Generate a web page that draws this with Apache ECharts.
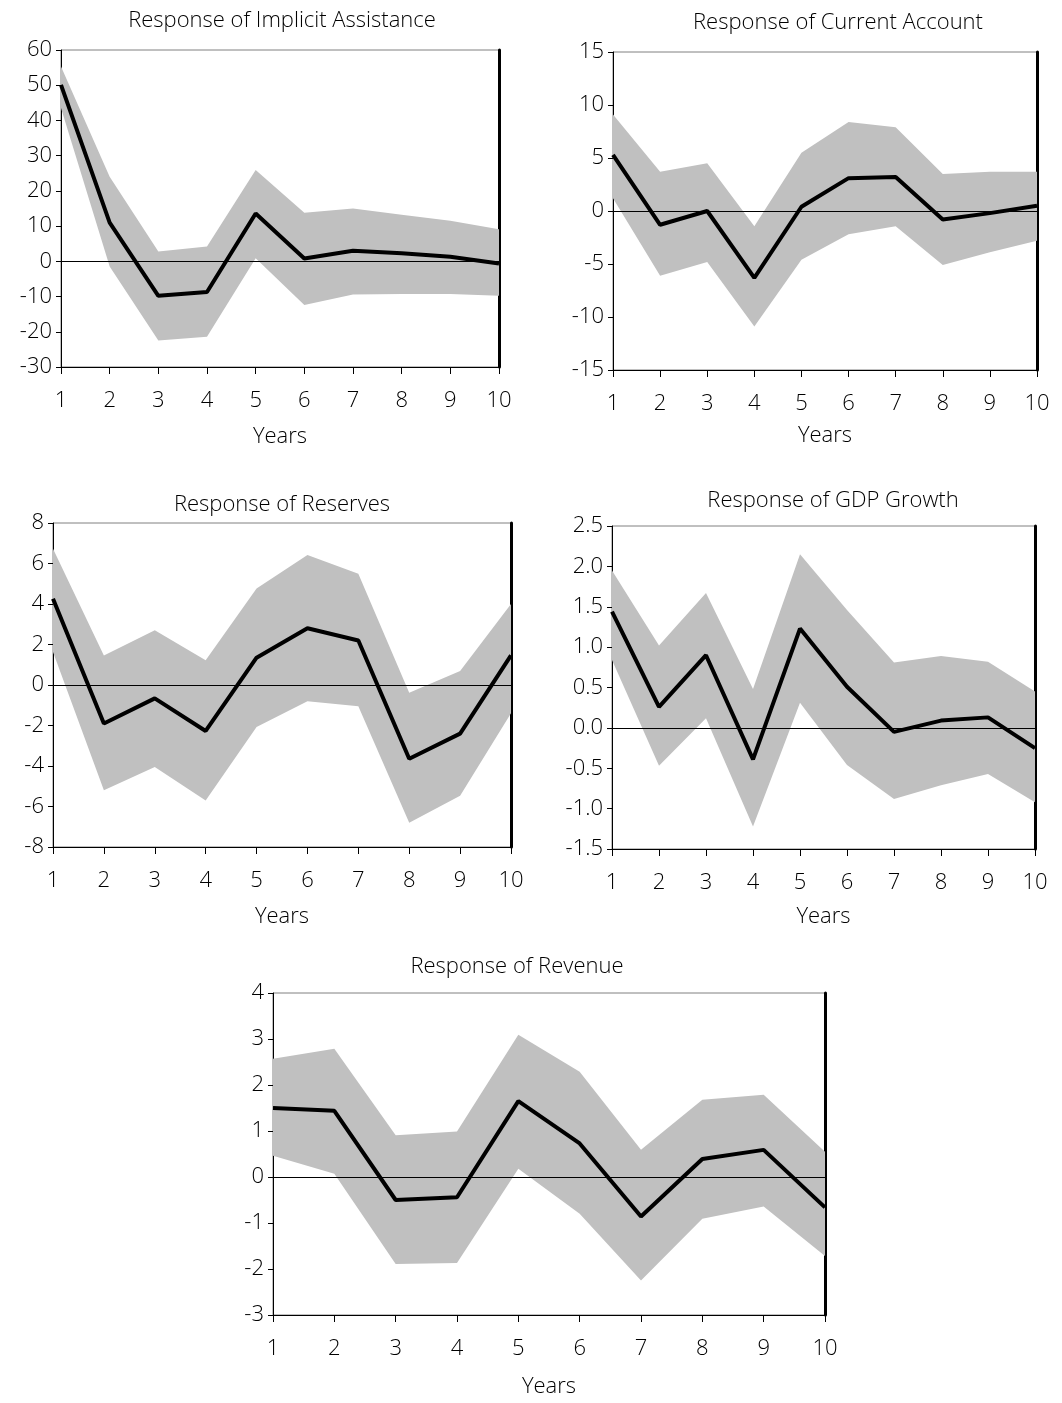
<!DOCTYPE html>
<html>
<head>
<meta charset="utf-8">
<script src="https://cdn.jsdelivr.net/npm/echarts@6/dist/echarts.min.js"></script>
<style>
html,body{margin:0;padding:0;background:#fff;}
#chart{width:1062px;height:1403px;}
</style>
</head>
<body>
<div id="chart"></div>
<script>
// ---- data ----
const years = ['1','2','3','4','5','6','7','8','9','10'];

const titles = [
  'Response of Implicit Assistance',
  'Response of Current Account',
  'Response of Reserves',
  'Response of GDP Growth',
  'Response of Revenue'
];

const implicitMean  = [50.1, 11.0, -9.8, -8.7, 13.6, 0.8, 3.0, 2.3, 1.3, -0.6];
const implicitUpper = [55.3, 24.0, 2.8, 4.2, 25.9, 13.8, 15.0, 13.2, 11.5, 9.1];
const implicitLower = [43.5, -1.5, -22.5, -21.4, 0.9, -12.4, -9.4, -9.3, -9.3, -9.8];

const currentMean  = [5.3, -1.3, 0.0, -6.3, 0.4, 3.1, 3.2, -0.8, -0.2, 0.5];
const currentUpper = [9.1, 3.7, 4.5, -1.45, 5.5, 8.4, 7.9, 3.5, 3.7, 3.7];
const currentLower = [1.2, -6.1, -4.8, -10.9, -4.6, -2.2, -1.45, -5.1, -3.9, -2.8];

const reservesMean  = [4.26, -1.9, -0.66, -2.27, 1.35, 2.8, 2.2, -3.64, -2.4, 1.46];
const reservesUpper = [6.73, 1.46, 2.7, 1.22, 4.76, 6.42, 5.5, -0.38, 0.69, 4.0];
const reservesLower = [1.63, -5.2, -4.05, -5.7, -2.07, -0.8, -1.05, -6.8, -5.47, -1.4];

const gdpMean  = [1.44, 0.26, 0.9, -0.39, 1.23, 0.51, -0.05, 0.09, 0.13, -0.25];
const gdpUpper = [1.95, 1.02, 1.67, 0.48, 2.15, 1.46, 0.81, 0.89, 0.82, 0.45];
const gdpLower = [0.84, -0.47, 0.12, -1.22, 0.31, -0.46, -0.88, -0.71, -0.57, -0.92];

const revenueMean  = [1.5, 1.44, -0.5, -0.44, 1.65, 0.73, -0.86, 0.39, 0.59, -0.66];
const revenueUpper = [2.57, 2.79, 0.91, 0.99, 3.09, 2.29, 0.59, 1.68, 1.79, 0.55];
const revenueLower = [0.46, 0.07, -1.89, -1.87, 0.18, -0.8, -2.25, -0.91, -0.64, -1.72];

// y-axis scales (min, max, interval, decimals)
const yScales = [
  [-30, 60, 10, 0],
  [-15, 15, 5, 0],
  [-8, 8, 2, 0],
  [-1.5, 2.5, 0.5, 1],
  [-3, 4, 1, 0]
];

const panels = [
  {mean: implicitMean, upper: implicitUpper, lower: implicitLower},
  {mean: currentMean, upper: currentUpper, lower: currentLower},
  {mean: reservesMean, upper: reservesUpper, lower: reservesLower},
  {mean: gdpMean, upper: gdpUpper, lower: gdpLower},
  {mean: revenueMean, upper: revenueUpper, lower: revenueLower}
];

// ---- layout ----
const gridBoxes = [
  {left: 61, top: 50, width: 438, height: 317},
  {left: 613, top: 52, width: 424, height: 318},
  {left: 53, top: 523, width: 458, height: 324},
  {left: 612, top: 526, width: 423, height: 323},
  {left: 273, top: 993, width: 552, height: 322}
];
const titlePos = [
  {x: 277, y: 5},
  {x: 833, y: 7},
  {x: 277, y: 489},
  {x: 828, y: 485},
  {x: 512, y: 951}
];
const nameGaps = [59, 55, 59, 57, 61];

const FONT = '"Open Sans", "Noto Sans", sans-serif';
const textBase = {color: '#000', fontFamily: FONT, fontSize: 22, fontWeight: 300};

const option = {
  backgroundColor: '#fff',
  animation: false,
  title: titles.map((t, i) => ({
    text: t,
    left: titlePos[i].x,
    top: titlePos[i].y,
    textAlign: 'center',
    textStyle: Object.assign({}, textBase, {fontSize: 22})
  })),
  grid: gridBoxes.map(g => Object.assign({
    show: true, borderColor: '#808080', borderWidth: 1, backgroundColor: '#fff',
    containLabel: false
  }, g)),
  xAxis: gridBoxes.map((g, i) => ({
    type: 'category',
    gridIndex: i,
    data: years,
    boundaryGap: false,
    name: 'Years',
    nameLocation: 'middle',
    nameGap: nameGaps[i],
    nameTextStyle: Object.assign({}, textBase),
    axisLine: {show: true, onZero: false, lineStyle: {color: '#000', width: 1}},
    axisTick: {show: true, alignWithLabel: true, length: 7, lineStyle: {color: '#000'}},
    axisLabel: Object.assign({margin: 23}, textBase),
    splitLine: {show: false}
  })),
  yAxis: [].concat(
    yScales.map((s, i) => ({
      type: 'value',
      gridIndex: i,
      min: s[0], max: s[1], interval: s[2],
      position: 'left',
      axisLine: {show: true, onZero: false, lineStyle: {color: '#000', width: 1}},
      axisTick: {show: true, length: 5, lineStyle: {color: '#000'}},
      axisLabel: Object.assign({margin: 9, formatter: v => v.toFixed(s[3])}, textBase),
      splitLine: {show: false}
    })),
    yScales.map((s, i) => ({
      type: 'value',
      gridIndex: i,
      min: s[0], max: s[1], interval: s[2],
      position: 'right',
      axisLine: {show: true, onZero: false, lineStyle: {color: '#000', width: 3}},
      axisTick: {show: false},
      axisLabel: {show: false},
      splitLine: {show: false}
    }))
  ),
  series: []
};

panels.forEach((p, i) => {
  const stackName = 'band' + i;
  option.series.push({
    type: 'line', xAxisIndex: i, yAxisIndex: i,
    data: p.lower, stack: stackName, stackStrategy: 'all',
    symbol: 'none', silent: true, z: 1,
    lineStyle: {opacity: 0}
  });
  option.series.push({
    type: 'line', xAxisIndex: i, yAxisIndex: i,
    data: p.upper.map((u, k) => +(u - p.lower[k]).toFixed(4)),
    stack: stackName, stackStrategy: 'all',
    symbol: 'none', silent: true, z: 1,
    lineStyle: {opacity: 0},
    areaStyle: {color: '#c0c0c0', opacity: 1}
  });
  option.series.push({
    type: 'line', xAxisIndex: i, yAxisIndex: i,
    data: p.mean, symbol: 'none', silent: true, z: 3,
    lineStyle: {color: '#000', width: 4},
    markLine: {
      silent: true, symbol: 'none', label: {show: false},
      lineStyle: {color: '#000', width: 1, type: 'solid'},
      data: [{yAxis: 0}]
    }
  });
});

const chart = echarts.init(document.getElementById('chart'), null, {renderer: 'canvas'});
chart.setOption(option);
</script>
</body>
</html>
